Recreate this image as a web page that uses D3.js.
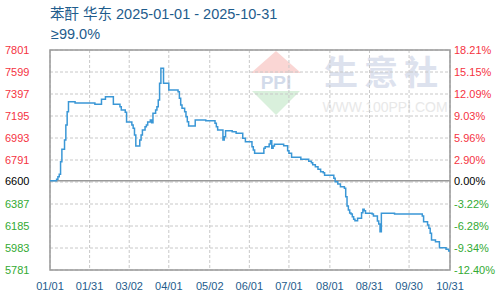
<!DOCTYPE html>
<html>
<head>
<meta charset="utf-8">
<script src="https://cdn.jsdelivr.net/npm/d3@7"></script>
<style>
  body { margin: 0; background: #fff; }
  svg { display: block; font-family: "Liberation Sans", Arial, "Noto Sans CJK SC", sans-serif; }
</style>
</head>
<body>
<div id="chart"></div>
<script>
// price points (change dates)
const dates = [
  "2025-01-01","2025-01-06","2025-01-07","2025-01-08","2025-01-09","2025-01-10","2025-01-12","2025-01-13",
  "2025-01-14","2025-01-15","2025-01-20","2025-02-04","2025-02-09","2025-02-12","2025-02-18","2025-02-23",
  "2025-02-24","2025-02-27","2025-02-28","2025-03-04","2025-03-05","2025-03-06","2025-03-07","2025-03-10",
  "2025-03-11","2025-03-12","2025-03-14","2025-03-15","2025-03-16","2025-03-18","2025-03-19","2025-03-20",
  "2025-03-22","2025-03-23","2025-03-24","2025-03-25","2025-03-26","2025-03-28","2025-04-01","2025-04-08",
  "2025-04-09","2025-04-10","2025-04-11","2025-04-13","2025-04-14","2025-04-15","2025-04-16","2025-04-21",
  "2025-04-29","2025-05-06","2025-05-07","2025-05-08","2025-05-12","2025-05-13","2025-05-14","2025-05-19",
  "2025-05-22","2025-05-27","2025-05-29","2025-06-03","2025-06-04","2025-06-05","2025-06-12","2025-06-13",
  "2025-06-16","2025-06-17","2025-06-18","2025-06-19","2025-06-20","2025-06-27","2025-06-30","2025-07-01",
  "2025-07-03","2025-07-10","2025-07-16","2025-07-18","2025-07-19","2025-07-21","2025-07-23","2025-07-25",
  "2025-07-27","2025-07-28","2025-08-04","2025-08-05","2025-08-07","2025-08-09","2025-08-12","2025-08-13",
  "2025-08-14","2025-08-15","2025-08-16","2025-08-17","2025-08-18","2025-08-19","2025-08-20","2025-08-22",
  "2025-08-25","2025-08-26","2025-08-27","2025-08-28","2025-09-02","2025-09-03","2025-09-06","2025-09-07",
  "2025-09-08","2025-09-09","2025-09-19","2025-10-10","2025-10-11","2025-10-14","2025-10-15","2025-10-16",
  "2025-10-17","2025-10-20","2025-10-23","2025-10-28","2025-10-30","2025-10-31"
];
const prices = [
  6600,6614,6638,6660,6775,6889,6975,7112,
  7235,7326,7314,7302,7348,7372,7302,7280,
  7250,7229,7140,7112,7082,7021,6920,6975,
  7021,7066,7097,7112,7140,7158,7134,7220,
  7250,7280,7342,7495,7633,7495,7434,7418,
  7358,7296,7266,7235,7189,7143,7103,7158,
  7152,7128,7097,7066,6975,7005,7060,7051,
  7036,6990,6959,6913,6883,6853,6898,6913,
  6938,6968,6898,6920,6935,6922,6876,6853,
  6816,6797,6779,6766,6748,6729,6706,6684,
  6674,6651,6623,6592,6571,6546,6531,6454,
  6369,6332,6304,6295,6270,6247,6234,6256,
  6307,6338,6325,6302,6295,6277,6231,6203,
  6133,6302,6295,6277,6225,6194,6164,6118,
  6057,6041,5986,5971,5956,5956
];

const basePrice = 6600;
const gridValues = [7801, 7599, 7397, 7195, 6993, 6791, 6589, 6387, 6185, 5983, 5781];
const leftLabelValues = [7801, 7599, 7397, 7195, 6993, 6791, 6600, 6387, 6185, 5983, 5781];
const leftLabels = ["7801", "7599", "7397", "7195", "6993", "6791", "6600", "6387", "6185", "5983", "5781"];
const rightLabels = ["18.21%", "15.15%", "12.09%", "9.03%", "5.96%", "2.90%", "0.00%", "-3.22%", "-6.28%", "-9.34%", "-12.40%"];
const xTickDates = ["2025-01-01","2025-01-31","2025-03-02","2025-04-01","2025-05-02","2025-06-01",
  "2025-07-01","2025-08-01","2025-08-31","2025-09-30","2025-10-31"];

const titleText = "苯酐 华东 2025-01-01 - 2025-10-31";
const subText = "≥99.0%";

const width = 500, height = 300;
const margin = { top: 50, right: 50, bottom: 30, left: 50 };

const parse = d3.timeParse("%Y-%m-%d");
const data = dates.map((d, i) => ({ date: parse(d), value: prices[i] }));
const tickDates = xTickDates.map(parse);

const x = d3.scaleTime()
  .domain([parse("2025-01-01"), parse("2025-10-31")])
  .range([margin.left, width - margin.right]);

const y = d3.scaleLinear()
  .domain([5781, 7801])
  .range([height - margin.bottom, margin.top]);

const svg = d3.select("#chart")
  .append("svg")
  .attr("width", width)
  .attr("height", height);

// watermark
const wm = svg.append("g");
wm.append("path")
  .attr("d", "M276,51 L251,73 L301,73 Z")
  .attr("fill", "#fad6d4");
wm.append("path")
  .attr("d", "M252,91 L300,91 L276,115 Z")
  .attr("fill", "#d9f0dc");
wm.append("text")
  .attr("x", 276).attr("y", 89)
  .attr("text-anchor", "middle")
  .attr("font-size", 19).attr("font-weight", "bold")
  .attr("fill", "#d3dbea")
  .text("PPI");
wm.append("text")
  .attr("x", 384).attr("y", 85)
  .attr("text-anchor", "middle")
  .attr("font-size", 34).attr("font-weight", "bold")
  .attr("font-family", "'Noto Sans CJK SC', sans-serif")
  .attr("letter-spacing", 6)
  .attr("fill", "#dde2ee")
  .text("生意社");
wm.append("text")
  .attr("x", 385).attr("y", 112)
  .attr("text-anchor", "middle")
  .attr("font-size", 14)
  .attr("fill", "#e8e8e8")
  .text("WWW.100PPI.COM");

// grid lines
svg.append("g")
  .selectAll("line")
  .data(gridValues)
  .join("line")
  .attr("x1", margin.left).attr("x2", width - margin.right)
  .attr("y1", d => y(d)).attr("y2", d => y(d))
  .attr("stroke", "#c8c8c8")
  .attr("stroke-dasharray", "3,2");

svg.append("g")
  .selectAll("line")
  .data(tickDates)
  .join("line")
  .attr("x1", d => x(d)).attr("x2", d => x(d))
  .attr("y1", margin.top).attr("y2", height - margin.bottom)
  .attr("stroke", "#c8c8c8")
  .attr("stroke-dasharray", "3,2");

// frame + base line
svg.append("rect")
  .attr("x", margin.left).attr("y", margin.top)
  .attr("width", width - margin.left - margin.right)
  .attr("height", height - margin.top - margin.bottom)
  .attr("fill", "none")
  .attr("stroke", "#999")
  .attr("stroke-width", 1.5);

svg.append("line")
  .attr("x1", margin.left).attr("x2", width - margin.right)
  .attr("y1", y(basePrice)).attr("y2", y(basePrice))
  .attr("stroke", "#999")
  .attr("stroke-width", 1.5);

// price line
const line = d3.line()
  .x(d => x(d.date))
  .y(d => y(d.value))
  .curve(d3.curveStepAfter);

svg.append("path")
  .datum(data)
  .attr("fill", "none")
  .attr("stroke", "#3a97d6")
  .attr("stroke-width", 1.5)
  .attr("d", line);

// y labels, coloured by side of the base price
const labelColor = v => v > basePrice ? "#f5333f" : (v < basePrice ? "#33aa33" : "#000");

svg.append("g")
  .selectAll("text")
  .data(leftLabelValues)
  .join("text")
  .attr("x", 5)
  .attr("y", d => y(d))
  .attr("dy", "0.35em")
  .attr("font-size", 11)
  .attr("fill", d => labelColor(d))
  .text((d, i) => leftLabels[i]);

svg.append("g")
  .selectAll("text")
  .data(leftLabelValues)
  .join("text")
  .attr("x", width - margin.right + 4)
  .attr("y", d => y(d))
  .attr("dy", "0.35em")
  .attr("font-size", 11)
  .attr("fill", d => labelColor(d))
  .text((d, i) => rightLabels[i]);

// x labels
svg.append("g")
  .selectAll("text")
  .data(tickDates)
  .join("text")
  .attr("x", d => x(d))
  .attr("y", height - 10)
  .attr("text-anchor", "middle")
  .attr("font-size", 11)
  .attr("fill", "#1e5c8c")
  .text(d => d3.timeFormat("%m/%d")(d));

// title
svg.append("text")
  .attr("x", 50).attr("y", 19)
  .attr("font-size", 14.5)
  .attr("fill", "#1e5c8c")
  .text(titleText);

svg.append("text")
  .attr("x", 51).attr("y", 39)
  .attr("font-size", 14.5)
  .attr("fill", "#1e5c8c")
  .text(subText);
</script>
</body>
</html>
